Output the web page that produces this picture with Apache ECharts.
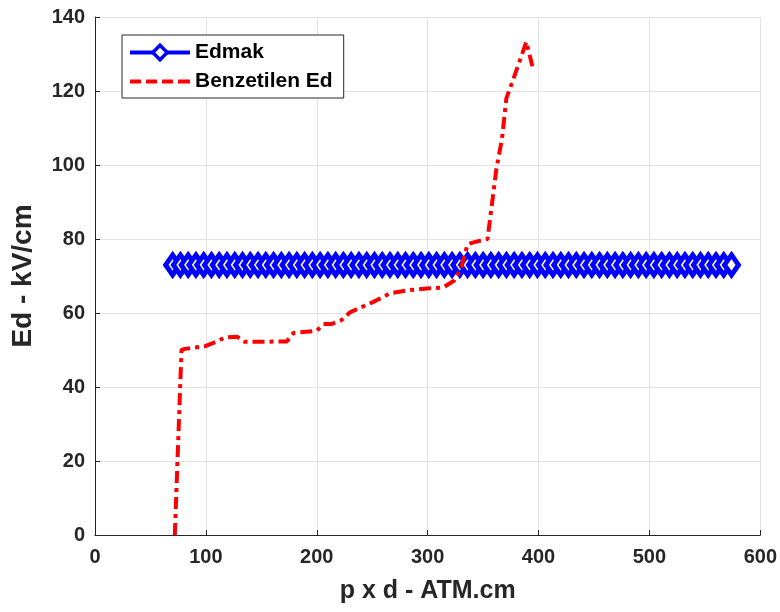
<!DOCTYPE html>
<html>
<head>
<meta charset="utf-8">
<script src="https://cdn.jsdelivr.net/npm/echarts@6/dist/echarts.min.js"></script>
<style>html,body{margin:0;padding:0;background:#fff;}#c{width:780px;height:612px;}</style>
</head>
<body>
<div id="c"></div>
<script>
// Edmak (constant line with diamond markers)
const edmakX = [70,77,84,91,98,105,112,119,126,133,140,147,154,161,168,175,182,189,196,203,210,217,224,231,238,245,252,259,266,273,280,287,294,301,308,315,322,329,336,343,350,357,364,371,378,385,392,399,406,413,420,427,434,441,448,455,462,469,476,483,490,497,504,511,518,525,532,539,546,553,560,567,574];
const edmakValue = 73;
// Benzetilen Ed (simulated)
const benzX = [72,78,81,99,110,117,128,135,173,179,200,206,213,222,230,236,251,266,281,299,314,324,330,336,344,354,362,367,371,377,389,395];
const benzY = [0,50,50.3,51,52.3,53.4,53.6,52.2,52.3,54.6,55.2,57,57,58,60.2,61,63,65.3,66.1,66.6,66.9,68.8,72,78.6,79.3,80,99,107,118,123,133.3,126];
const seriesNames = ['Edmak','Benzetilen Ed'];
const xTitle = 'p x d - ATM.cm';
const yTitle = 'Ed - kV/cm';

const chart = echarts.init(document.getElementById('c'), null, {renderer:'canvas'});
const font = 'Liberation Sans, Arial, Helvetica, sans-serif';
const axisColor = '#262626';
// dashed legend icon for the simulated series (60x18 box, dashes centred)
const dashIcon = 'path://M0,0h0.01v0.01h-0.01z M0,18h0.01v0.01h-0.01z M60,0h0.01v0.01h-0.01z ' +
  'M0,7h11v4h-11z M16,7h11v4h-11z M32,7h11v4h-11z M48,7h12v4h-12z';
chart.setOption({
  animation:false,
  backgroundColor:'#fff',
  grid:{left:95, right:19, top:17, bottom:77, containLabel:false},
  legend:{
    orient:'vertical', left:122, top:35,
    padding:[7,11,6,6], itemGap:8, itemWidth:60, itemHeight:18,
    backgroundColor:'#fff', borderColor:'#262626', borderWidth:1,
    textStyle:{fontFamily:font, fontWeight:'bold', fontSize:21, color:'#000'},
    data:[
      {name:seriesNames[0], lineStyle:{width:4, color:'#0000ff'}, itemStyle:{color:'#ffffff', borderColor:'#0000ff', borderWidth:3.5}},
      {name:seriesNames[1], icon:dashIcon, itemStyle:{color:'#ff0000'}}
    ]
  },
  xAxis:{
    type:'value', min:0, max:600, interval:100,
    name:xTitle, nameLocation:'middle', nameGap:44,
    nameTextStyle:{fontFamily:font, fontWeight:'bold', fontSize:25, color:axisColor},
    axisLine:{show:true, onZero:false, lineStyle:{color:axisColor, width:1}},
    axisTick:{show:true, inside:true, length:5, lineStyle:{color:axisColor}},
    axisLabel:{fontFamily:font, fontWeight:'bold', fontSize:20, color:axisColor, margin:12},
    splitLine:{show:true, lineStyle:{color:'#e3e3e3', width:1}}
  },
  yAxis:{
    type:'value', min:0, max:140, interval:20,
    name:yTitle, nameLocation:'middle', nameGap:58,
    nameTextStyle:{fontFamily:font, fontWeight:'bold', fontSize:28, color:axisColor},
    axisLine:{show:true, onZero:false, lineStyle:{color:axisColor, width:1}},
    axisTick:{show:true, inside:true, length:5, lineStyle:{color:axisColor}},
    axisLabel:{fontFamily:font, fontWeight:'bold', fontSize:20, color:axisColor, margin:10},
    splitLine:{show:true, lineStyle:{color:'#e3e3e3', width:1}}
  },
  series:[
    {
      name:seriesNames[0], type:'line',
      data:edmakX.map(x=>[x, edmakValue]),
      symbol:'diamond', symbolSize:[14,20], showSymbol:true,
      lineStyle:{color:'#0000ff', width:3.5},
      itemStyle:{color:'#ffffff', borderColor:'#0000ff', borderWidth:5},
      z:2
    },
    {
      name:seriesNames[1], type:'line',
      data:benzX.map((x,i)=>[x, benzY[i]]),
      symbol:'none', showSymbol:false,
      lineStyle:{color:'#ff0000', width:4, type:[12,5,4,5]},
      itemStyle:{color:'#ff0000'},
      z:3
    }
  ]
});
</script>
</body>
</html>
